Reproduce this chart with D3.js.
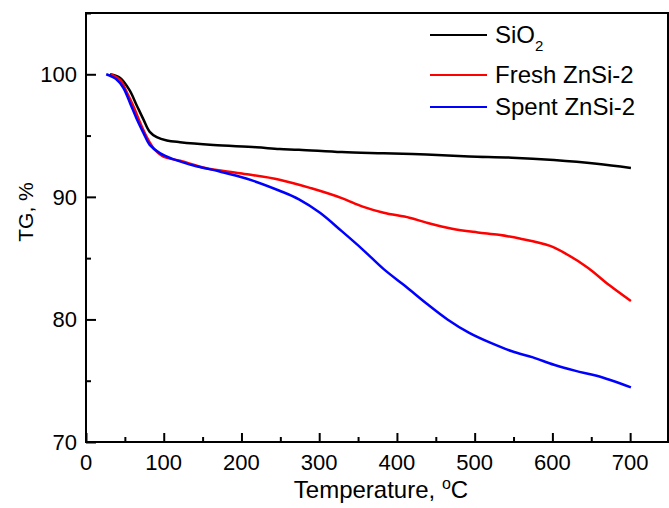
<!DOCTYPE html>
<html>
<head>
<meta charset="utf-8">
<script src="https://cdn.jsdelivr.net/npm/d3@7"></script>
<style>
  body { margin: 0; background: #fff; }
  svg { display: block; font-family: Arial, "Liberation Sans", sans-serif; }
</style>
</head>
<body>
<div id="chart"></div>
<script>
// temperature (°C) and TG (%)
const sio2T  = [31, 44, 56, 65, 74, 82, 91, 104, 121, 164, 219, 249, 274, 329, 383, 438, 493, 548, 602, 657, 701];
const sio2TG = [100, 99.7, 98.7, 97.5, 96.3, 95.3, 94.87, 94.6, 94.46, 94.24, 94.05, 93.9, 93.85, 93.65, 93.55, 93.45, 93.3, 93.2, 93.0, 92.7, 92.36];

const freshT  = [32, 44, 52, 61, 69, 78, 87, 99, 121, 155, 198, 249, 290, 329, 356, 383, 416, 438, 471, 504, 531, 558, 597, 619, 646, 673, 701];
const freshTG = [100, 99.55, 98.6, 97.4, 96.15, 94.9, 93.97, 93.3, 92.94, 92.34, 91.93, 91.4, 90.7, 89.9, 89.2, 88.7, 88.3, 87.9, 87.4, 87.1, 86.9, 86.6, 86.0, 85.3, 84.2, 82.8, 81.5];

const spentT  = [26, 39, 48, 57, 65, 74, 82, 95, 112, 142, 172, 206, 249, 274, 301, 329, 356, 383, 411, 438, 465, 493, 520, 548, 575, 602, 630, 657, 701];
const spentTG = [100, 99.6, 98.9, 97.6, 96.4, 95.2, 94.24, 93.57, 93.08, 92.5, 92.07, 91.5, 90.5, 89.8, 88.7, 87.2, 85.7, 84.1, 82.7, 81.3, 80.0, 78.9, 78.1, 77.4, 76.9, 76.3, 75.8, 75.4, 74.46];

const xTicks = [0, 100, 200, 300, 400, 500, 600, 700];
const yTicks = [70, 80, 90, 100];

const series = [
    {name: "SiO", sub: "2", color: "#000000", t: sio2T, v: sio2TG},
    {name: "Fresh ZnSi-2", sub: "", color: "#ff0000", t: freshT, v: freshTG},
    {name: "Spent ZnSi-2", sub: "", color: "#0000ff", t: spentT, v: spentTG}
];

let width = 669, height = 508;
let margin = {top: 13, bottom: 66, left: 86, right: 0};

let svg = d3.select("#chart")
    .append("svg")
    .attr("width", width)
    .attr("height", height);

let x = d3.scaleLinear().domain([0, 750]).range([margin.left, width - margin.right]);
let y = d3.scaleLinear().domain([70, 105]).range([height - margin.bottom, margin.top]);

// curves
let line = d3.line()
    .x(d => x(d[0]))
    .y(d => y(d[1]))
    .curve(d3.curveCatmullRom.alpha(0.5));

series.forEach(s => {
    svg.append("path")
        .datum(s.t.map((t, i) => [t, s.v[i]]))
        .attr("fill", "none")
        .attr("stroke", s.color)
        .attr("stroke-width", 2.5)
        .attr("d", line);
});

// bottom axis, ticks inward
let xAxis = svg.append("g")
    .attr("transform", "translate(0," + y(70) + ")")
    .call(d3.axisBottom(x).tickValues(d3.range(0, 751, 50)).tickSize(-5).tickFormat(""));
xAxis.selectAll(".tick line")
    .filter(d => d % 100 === 0)
    .attr("y2", -9);

// left axis, ticks inward
let yAxis = svg.append("g")
    .attr("transform", "translate(" + x(0) + ",0)")
    .call(d3.axisLeft(y).tickValues(d3.range(70, 106, 5)).tickSize(-5).tickFormat(""));
yAxis.selectAll(".tick line")
    .filter(d => d % 10 === 0)
    .attr("x2", 10);

[xAxis, yAxis].forEach(a => {
    a.select(".domain").remove();
    a.selectAll(".tick line").attr("stroke", "#000").attr("stroke-width", 2);
});

// frame
svg.append("rect")
    .attr("x", x(0))
    .attr("y", y(105))
    .attr("width", x(750) - x(0) - 1)
    .attr("height", y(70) - y(105))
    .attr("fill", "none")
    .attr("stroke", "#000")
    .attr("stroke-width", 2);

// tick labels
svg.selectAll(".xlab")
    .data(xTicks)
    .enter()
    .append("text")
    .attr("x", d => x(d))
    .attr("y", y(70) + 28)
    .attr("text-anchor", "middle")
    .style("font-size", "22px")
    .text(d => d);

svg.selectAll(".ylab")
    .data(yTicks)
    .enter()
    .append("text")
    .attr("x", x(0) - 9)
    .attr("y", d => y(d) + 8)
    .attr("text-anchor", "end")
    .style("font-size", "22px")
    .text(d => d);

// axis titles
let xTitle = svg.append("text")
    .attr("x", 381)
    .attr("y", 498)
    .attr("text-anchor", "middle")
    .style("font-size", "24px");
xTitle.append("tspan").text("Temperature, ");
xTitle.append("tspan").attr("dy", -9).style("font-size", "16px").text("o");
xTitle.append("tspan").attr("dy", 9).text("C");

svg.append("text")
    .attr("transform", "translate(33,212) rotate(-90)")
    .attr("text-anchor", "middle")
    .style("font-size", "21px")
    .text("TG, %");

// legend
let legendY = [35, 75, 107];
series.forEach((s, i) => {
    svg.append("line")
        .attr("x1", 430).attr("x2", 487)
        .attr("y1", legendY[i]).attr("y2", legendY[i])
        .attr("stroke", s.color)
        .attr("stroke-width", 2);
    let t = svg.append("text")
        .attr("x", 495)
        .attr("y", legendY[i] + 8)
        .style("font-size", "24px");
    t.append("tspan").text(s.name);
    if (s.sub) {
        t.append("tspan").attr("dy", 8).style("font-size", "15px").text(s.sub);
    }
});
</script>
</body>
</html>
